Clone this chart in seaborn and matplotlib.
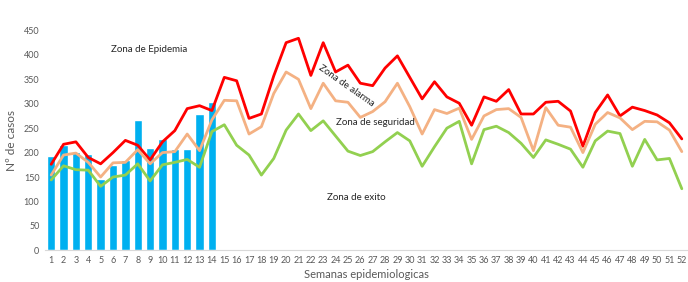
import matplotlib
matplotlib.use('Agg')
import matplotlib.pyplot as plt
import seaborn as sns
import pandas as pd
import numpy as np

# Semanas epidemiologicas 1..52
weeks = list(range(1, 53))

# Casos observados (solo semanas 1-14)
casos = [194, 216, 202, 198, 145, 175, 185, 267, 210, 227, 208, 208, 280, 303]

# Zona de alarma (percentil alto) - linea roja
alarma = [176, 217, 222, 190, 177, 200, 225, 215, 185, 222, 245, 290, 296, 286,
          354, 347, 270, 279, 357, 425, 434, 358, 425, 365, 379, 342, 337, 373,
          398, 354, 310, 345, 314, 301, 256, 314, 305, 329, 279, 279, 303, 305,
          285, 213, 282, 318, 275, 293, 286, 277, 261, 228]

# Zona de seguridad (mediana) - linea salmon
seguridad = [154, 195, 199, 180, 150, 179, 180, 206, 177, 200, 202, 238, 204, 267,
             307, 306, 238, 253, 321, 365, 350, 290, 342, 306, 303, 272, 284, 304,
             342, 294, 238, 288, 280, 291, 227, 275, 288, 290, 272, 204, 292, 256,
             252, 200, 258, 282, 271, 247, 264, 263, 246, 202]

# Zona de exito (percentil bajo) - linea verde
exito = [144, 173, 165, 164, 131, 150, 154, 177, 142, 175, 180, 186, 170, 243,
         257, 215, 195, 154, 188, 246, 279, 245, 265, 234, 203, 194, 202, 222,
         241, 224, 172, 212, 250, 264, 177, 247, 254, 241, 219, 190, 226, 217,
         207, 170, 224, 244, 239, 172, 227, 185, 188, 126]

df_bars = pd.DataFrame({'semana': weeks[:len(casos)], 'casos': casos})
df_lines = pd.DataFrame({'semana': weeks, 'alarma': alarma,
                         'seguridad': seguridad, 'exito': exito})

sns.set_style('white')
plt.rcParams['font.family'] = ['Lato', 'DejaVu Sans']

fig = plt.figure(figsize=(6.88, 2.82), dpi=100)
ax = fig.add_axes([0.0654, 0.1124, 0.9346, 0.7796])

# Bars of observed cases
sns.barplot(data=df_bars, x='semana', y='casos', native_scale=True,
            color='#00B0F0', saturation=1, width=0.67, ax=ax)

# Channel lines
sns.lineplot(data=df_lines, x='semana', y='alarma', color='#FF0000', lw=2.0, ax=ax)
sns.lineplot(data=df_lines, x='semana', y='seguridad', color='#F4B183', lw=2.0, ax=ax)
sns.lineplot(data=df_lines, x='semana', y='exito', color='#92D050', lw=2.0, ax=ax)

ax.set_xlim(0.5, 52.5)
ax.set_ylim(0, 450)
ax.set_yticks(range(0, 451, 50))
ax.set_xticks(weeks)
ax.set_xticklabels([str(w) for w in weeks])
ax.tick_params(axis='both', labelsize=6.5, labelcolor='#595959', length=0, pad=4)

for s in ['top', 'right', 'left']:
    ax.spines[s].set_visible(False)
ax.spines['bottom'].set_color('#D9D9D9')
ax.spines['bottom'].set_linewidth(0.8)

ax.set_xlabel('Semanas epidemiologicas', fontsize=8, color='#595959', labelpad=3)
ax.set_ylabel('Nº de casos', fontsize=8.5, color='#595959', labelpad=5)

# Zone labels
ax.text(8.9, 410, 'Zona de Epidemia', fontsize=7, ha='center', va='center')
ax.text(24.9, 336, 'Zona de alarma', fontsize=7, ha='center', va='center', rotation=-35)
ax.text(27.2, 261, 'Zona de seguridad', fontsize=7, ha='center', va='center')
ax.text(25.7, 109, 'Zona de exito', fontsize=7, ha='center', va='center')

fig.savefig('out.png', dpi=100)
